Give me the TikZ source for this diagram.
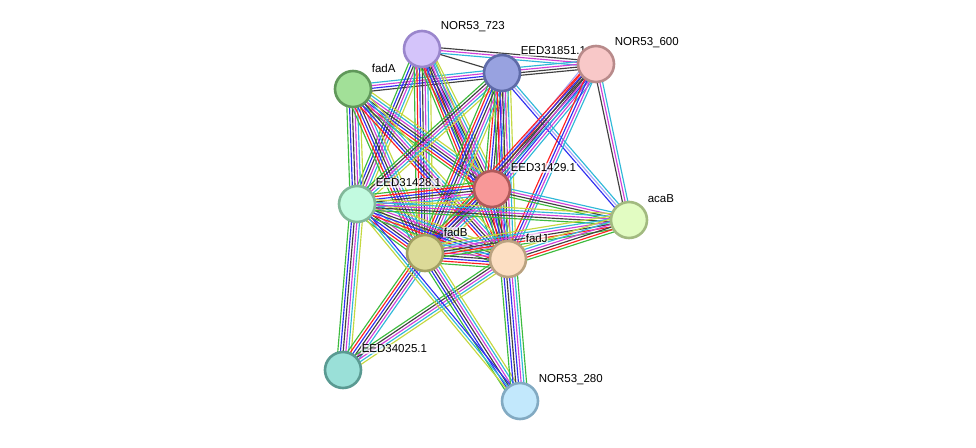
\documentclass[tikz,border=0pt]{standalone}
\usepackage{fontspec}
\setmainfont{Liberation Sans}
\usetikzlibrary{calc}
\pgfdeclarelayer{edges}
\pgfdeclarelayer{labels}
\pgfsetlayers{edges,labels,main}
\definecolor{cG}{HTML}{3DBB3D}
\definecolor{cR}{HTML}{FF2020}
\definecolor{cB}{HTML}{3030F0}
\definecolor{cK}{HTML}{404040}
\definecolor{cM}{HTML}{D040D8}
\definecolor{cC}{HTML}{30B8D8}
\definecolor{cY}{HTML}{C4D840}
\definecolor{cL}{HTML}{A8A8F8}
\definecolor{f723}{HTML}{D4C4FA}\definecolor{d723}{HTML}{9A86CC}
\definecolor{f851}{HTML}{98A2E0}\definecolor{d851}{HTML}{5E6AA8}
\definecolor{f600}{HTML}{F8C8C8}\definecolor{d600}{HTML}{B88A8A}
\definecolor{ffadA}{HTML}{A2E098}\definecolor{dfadA}{HTML}{60985A}
\definecolor{f429}{HTML}{F89898}\definecolor{d429}{HTML}{B05A5A}
\definecolor{f428}{HTML}{C2FAE0}\definecolor{d428}{HTML}{82B89A}
\definecolor{facaB}{HTML}{E2FCC2}\definecolor{dacaB}{HTML}{A2BA80}
\definecolor{ffadB}{HTML}{DCDA98}\definecolor{dfadB}{HTML}{A2A062}
\definecolor{ffadJ}{HTML}{FCDEC2}\definecolor{dfadJ}{HTML}{BAA280}
\definecolor{f025}{HTML}{9AE0D8}\definecolor{d025}{HTML}{5A9A92}
\definecolor{f280}{HTML}{C2E8FC}\definecolor{d280}{HTML}{82AAC2}
\tikzset{
  G/.style={draw=cG,line width=1.15pt},
  R/.style={draw=cR,line width=1.15pt},
  B/.style={draw=cB,line width=1.15pt},
  K/.style={draw=cK,line width=1.15pt},
  M/.style={draw=cM,line width=1.15pt},
  C/.style={draw=cC,line width=1.15pt},
  Y/.style={draw=cY,line width=1.15pt},
  L/.style={draw=cL,line width=1.15pt},
  prot/.style={circle,minimum size=36pt,inner sep=0pt,line width=2.6pt},
  lab/.style={anchor=west,inner sep=0.6pt,fill=white,fill opacity=0.65,text opacity=1,font=\fontsize{11.5}{12}\selectfont}
}
\newcommand\edgeb[3]{%
  \def\nn{0}%
  \foreach \c in {#3}{\pgfmathtruncatemacro\tmp{\nn+1}\global\let\nn\tmp}%
  \foreach \c [count=\i] in {#3}{%
    \pgfmathsetmacro\off{(\i-(\nn+1)/2)*2.7}%
    \draw[\c] ($(#1)!\off pt!90:(#2)$) -- ($(#2)!\off pt!-90:(#1)$);
  }}
\begin{document}
\begin{tikzpicture}[x=1pt,y=-1pt]
\useasboundingbox (0,0) rectangle (976,447);
% nodes
\node[prot,fill=f723,draw=d723] (n723) at (422,49) {};
\node[prot,fill=f851,draw=d851] (e851) at (502,73) {};
\node[prot,fill=f600,draw=d600] (n600) at (596,64) {};
\node[prot,fill=ffadA,draw=dfadA] (fadA) at (353,89) {};
\node[prot,fill=f429,draw=d429] (e429) at (492,189) {};
\node[prot,fill=f428,draw=d428] (e428) at (357,204) {};
\node[prot,fill=facaB,draw=dacaB] (acaB) at (629,220) {};
\node[prot,fill=ffadB,draw=dfadB] (fadB) at (425,253) {};
\node[prot,fill=ffadJ,draw=dfadJ] (fadJ) at (508,259) {};
\node[prot,fill=f025,draw=d025] (e025) at (343,370) {};
\node[prot,fill=f280,draw=d280] (n280) at (520,401) {};
% labels
\begin{pgfonlayer}{labels}
\node[lab] (l723) at (440,27) {NOR53\_723};
\node[lab] (l851) at (520,51) {EED31851.1};
\node[lab] (l600) at (614,43) {NOR53\_600};
\node[lab] (lfadA) at (371,68) {fadA};
\node[lab] (l429) at (510,168) {EED31429.1};
\node[lab] (l428) at (375,183) {EED31428.1};
\node[lab] (lacaB) at (647,199) {acaB};
\node[lab] (lfadB) at (443,232) {fadB};
\node[lab] (lfadJ) at (525,238) {fadJ};
\node[lab] (l025) at (361,349) {EED34025.1};
\node[lab] (l280) at (538,380) {NOR53\_280};
\end{pgfonlayer}
% edges
\begin{pgfonlayer}{edges}
\edgeb{n723}{e851}{K}
\edgeb{n723}{n600}{C,M,K}
\edgeb{e851}{n600}{K,K,M,C}
\edgeb{fadA}{e851}{K,B,M,C}
\edgeb{n723}{e429}{G,R,B,K,M,C,Y}
\edgeb{n723}{e428}{G,B,K,M,C,Y}
\edgeb{n723}{fadB}{G,R,B,K,M,C,Y}
\edgeb{n723}{fadJ}{G,R,B,K,M,C,Y}
\edgeb{fadA}{e429}{G,R,B,K,M,C,Y}
\edgeb{fadA}{e428}{G,B,K,M,C,Y}
\edgeb{fadA}{fadB}{G,R,B,K,M,C,Y}
\edgeb{fadA}{fadJ}{R,B,K,M,C,Y}
\edgeb{e851}{e429}{G,R,B,K,M,C,Y}
\edgeb{e851}{e428}{G,K,M,C,Y}
\edgeb{e851}{fadB}{G,R,B,K,M,C,Y}
\edgeb{e851}{fadJ}{G,R,B,K,M,C,Y}
\edgeb{e851}{acaB}{B,L,C}
\edgeb{n600}{e429}{L,R,K,K,B,M,C}
\edgeb{n600}{fadB}{R,B,K,M,C}
\edgeb{n600}{fadJ}{R,B,M,C}
\edgeb{n600}{acaB}{K,M,C}
\edgeb{e429}{e428}{G,R,B,K,M,C,Y}
\edgeb{e429}{fadB}{G,R,B,K,M,C,Y}
\edgeb{e429}{fadJ}{G,R,B,K,M,C,Y}
\edgeb{e429}{acaB}{G,K,M,C}
\edgeb{e428}{fadB}{G,R,B,K,M,C,Y}
\edgeb{e428}{fadJ}{G,R,B,K,M,C,Y}
\edgeb{e428}{acaB}{G,K,M,C,Y}
\edgeb{fadB}{fadJ}{G,R,B,K,M,C,Y,L}
\edgeb{fadB}{acaB}{G,R,K,M,C,Y}
\edgeb{fadJ}{acaB}{G,R,K,M,C,Y}
\edgeb{e428}{e025}{G,B,K,M,C,Y}
\edgeb{fadB}{e025}{G,R,B,K,M,C}
\edgeb{fadJ}{e025}{G,K,M,C,Y}
\edgeb{fadB}{n280}{G,B,K,M,C,Y}
\edgeb{fadJ}{n280}{G,B,K,B,M,C,G}
\edgeb{e428}{n280}{Y,C,B}
\end{pgfonlayer}
\end{tikzpicture}
\end{document}
